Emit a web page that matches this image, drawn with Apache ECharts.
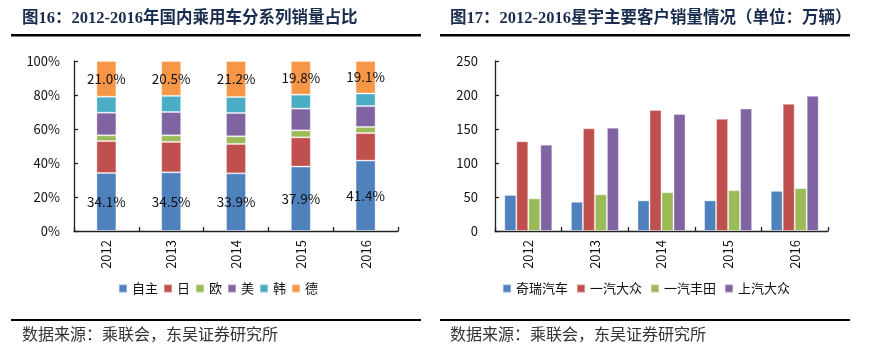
<!DOCTYPE html>
<html><head><meta charset="utf-8">
<script src="https://cdn.jsdelivr.net/npm/echarts@6/dist/echarts.min.js"></script>
<style>html,body{margin:0;padding:0;background:#fff;}#c{width:874px;height:355px;}</style>
</head><body><div id="c"></div>
<script>
// ---- Data ----
const years = ['2012','2013','2014','2015','2016'];
// Left chart: share by series (%)
const shareNames = ['自主','日','欧','美','韩','德'];
const shareZizhu = [34.1, 34.5, 33.9, 37.9, 41.4];
const shareRi    = [18.8, 17.9, 17.3, 17.2, 16.2];
const shareOu    = [3.4, 3.9, 4.5, 4.1, 3.6];
const shareMei   = [13.3, 13.7, 13.7, 12.8, 12.3];
const shareHan   = [9.4, 9.5, 9.4, 8.2, 7.4];
const shareDe    = [21.0, 20.5, 21.2, 19.8, 19.1];
const shareTicks = [0, 20, 40, 60, 80, 100];
// Right chart: customer sales (万辆)
const custNames = ['奇瑞汽车','一汽大众','一汽丰田','上汽大众'];
const chery   = [53, 43, 45, 45, 59];
const fawVW   = [132, 151, 178, 165, 187];
const fawToyota = [48, 54, 57, 60, 63];
const saicVW  = [127, 152, 172, 180, 199];
const salesTicks = [0, 50, 100, 150, 200, 250];

const colors = ['#4F81BD','#C0504D','#9BBB59','#8064A2','#4BACC6','#F79646'];
const font = "'Noto Sans CJK SC', 'Noto Sans', sans-serif";
const titleFont = "'Liberation Serif', 'Noto Sans CJK SC', serif";
const titleColor = '#1b2d4f';

const chart = echarts.init(document.getElementById('c'), null, {renderer:'canvas'});

const axisCommon = {
  axisLine:{show:true, lineStyle:{color:'#222', width:1.3}},
  axisTick:{show:true, inside:true, length:4, lineStyle:{color:'#222', width:1.3}},
  splitLine:{show:false}
};

const leftData = [shareZizhu, shareRi, shareOu, shareMei, shareHan, shareDe];
const leftSeries = leftData.map((d,i)=>({
  name: shareNames[i], type:'bar', stack:'share', xAxisIndex:0, yAxisIndex:0,
  data:d, barWidth:20,
  itemStyle:{color:colors[i], borderColor:'rgba(255,255,255,0.35)', borderWidth:1},
  label:{show:(i===0||i===5), position:'inside', color:'#111', fontSize:13.5, fontFamily:font,
    formatter:p=>p.value.toFixed(1)+'%'}
}));
const rightData = [chery, fawVW, fawToyota, saicVW];
const rightSeries = rightData.map((d,i)=>({
  name: custNames[i], type:'bar', xAxisIndex:1, yAxisIndex:1,
  data:d, barWidth:12, barGap:'0%',
  itemStyle:{color:colors[i], borderColor:'rgba(255,255,255,0.35)', borderWidth:1}
}));

chart.setOption({
  animation:false,
  backgroundColor:'#fff',
  grid:[
    {left:74, top:61, width:324, height:170},
    {left:495, top:61, width:333, height:170}
  ],
  legend:[
    {data:shareNames, top:282, left:118, itemWidth:8, itemHeight:8, itemGap:5,
     icon:'rect', textStyle:{fontSize:13, fontFamily:font, color:'#111'}, padding:0},
    {data:custNames, top:282, left:502, itemWidth:8, itemHeight:8, itemGap:8,
     icon:'rect', textStyle:{fontSize:13, fontFamily:font, color:'#111'}, padding:0}
  ],
  xAxis:[
    Object.assign({type:'category', gridIndex:0, data:years,
      axisLabel:{rotate:90, margin:9, fontSize:13, fontFamily:font, color:'#111'}}, axisCommon),
    Object.assign({type:'category', gridIndex:1, data:years,
      axisLabel:{rotate:90, margin:9, fontSize:13, fontFamily:font, color:'#111'}}, axisCommon)
  ],
  yAxis:[
    Object.assign({type:'value', gridIndex:0, min:shareTicks[0], max:shareTicks[shareTicks.length-1], interval:20,
      axisLabel:{margin:14, fontSize:13, fontFamily:font, color:'#111', formatter:'{value}%'}}, axisCommon),
    Object.assign({type:'value', gridIndex:1, min:salesTicks[0], max:salesTicks[salesTicks.length-1], interval:50,
      axisLabel:{margin:17, fontSize:13, fontFamily:font, color:'#111'}}, axisCommon)
  ],
  series: leftSeries.concat(rightSeries),
  graphic:[
    {type:'text', left:22, top:10, style:{text:'图16：2012-2016年国内乘用车分系列销量占比', font:'bold 16.5px '+titleFont, fill:titleColor}},
    {type:'text', left:450, top:10, style:{text:'图17：2012-2016星宇主要客户销量情况（单位：万辆）', font:'bold 16.5px '+titleFont, fill:titleColor}},
    {type:'rect', shape:{x:11, y:34, width:410, height:2.5}, style:{fill:'#000'}},
    {type:'rect', shape:{x:440, y:34, width:410, height:2.5}, style:{fill:'#000'}},
    {type:'rect', shape:{x:11, y:319, width:410, height:2}, style:{fill:'#000'}},
    {type:'rect', shape:{x:440, y:319, width:410, height:2}, style:{fill:'#000'}},
    {type:'text', left:22, top:326, style:{text:'数据来源：乘联会，东吴证券研究所', font:'16px '+font, fill:'#333'}},
    {type:'text', left:450, top:326, style:{text:'数据来源：乘联会，东吴证券研究所', font:'16px '+font, fill:'#333'}}
  ]
});
</script></body></html>
